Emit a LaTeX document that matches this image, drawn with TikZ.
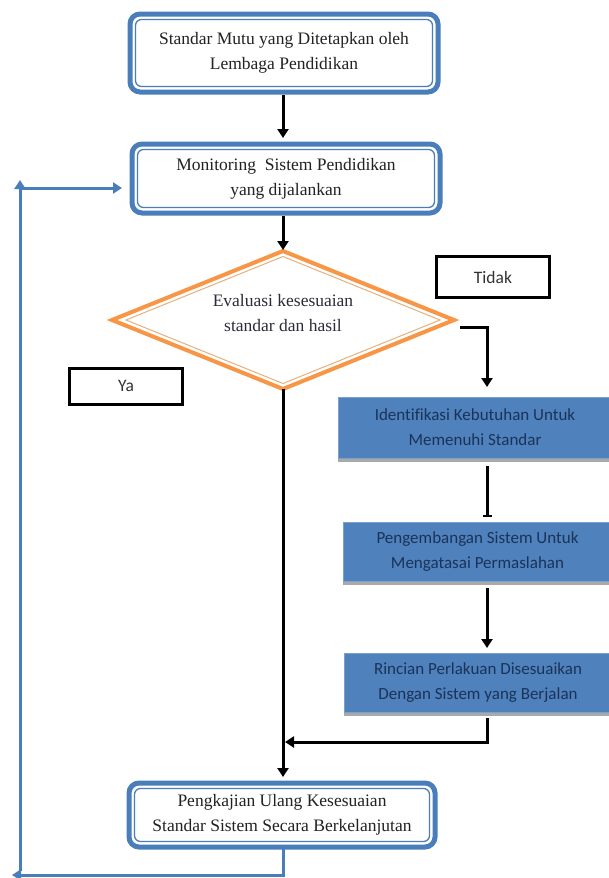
\documentclass[tikz,border=0pt]{standalone}
\usepackage{fontspec}
\setmainfont{Liberation Serif}
\newfontfamily\calfont[Ligatures=NoCommon]{Carlito}
\usetikzlibrary{arrows.meta,shapes.geometric,shadows}

\definecolor{frameblue}{HTML}{4A7EBB}
\definecolor{fillblue}{HTML}{4F81BD}
\definecolor{navytext}{HTML}{1B3358}
\definecolor{orangeline}{HTML}{F79646}
\definecolor{orangeinner}{HTML}{E6B07C}
\definecolor{shadowgray}{HTML}{A9A9A9}
\definecolor{serifink}{HTML}{222222}
\definecolor{diamondink}{HTML}{2E2A3A}

\tikzset{
  roundbox/.style={draw=frameblue, line width=5pt, rounded corners=10pt,
    fill=white, outer sep=0pt, inner sep=0pt, align=center,
    font=\fontsize{17.5}{25}\selectfont, text=serifink},
  innerframe/.style={draw=frameblue, line width=1.3pt, rounded corners=6pt},
  decision/.style={diamond, draw=orangeline, line width=4pt, fill=white,
    outer sep=0pt, inner sep=2pt, aspect=2.5},
  decisiontext/.style={align=center, inner sep=0pt,
    font=\fontsize{17.5}{25}\selectfont, text=diamondink},
  taskbox/.style={rectangle, fill=fillblue, draw=fillblue!75!white,
    line width=0.8pt, outer sep=0pt, inner sep=0pt, align=center,
    font=\calfont\fontsize{17}{25}\selectfont, text=navytext,
    drop shadow={shadow xshift=0pt, shadow yshift=-4pt, fill=shadowgray, opacity=1}},
  tagbox/.style={rectangle, draw=black, line width=3pt, outer sep=0pt,
    inner sep=0pt, align=center, font=\calfont\fontsize{17.5}{20}\selectfont,
    text=black!80},
  flow/.style={draw=black, line width=3pt, -{Triangle[width=11pt,length=9pt]}},
  barflow/.style={draw=black, line width=3pt, -{Bar[width=9pt,line width=2pt]}},
  loopback/.style={draw=frameblue, line width=3pt, -{Triangle[width=11pt,length=9pt]}},
}

\begin{document}
\begin{tikzpicture}[x=1pt, y=-1pt]
  \useasboundingbox[fill=white] (0,0) rectangle (609,878);

  % main column
  \node[roundbox, minimum width=308pt, minimum height=78pt] (b1) at (284,53)
    {Standar Mutu yang Ditetapkan oleh\\Lembaga Pendidikan};
  \draw[innerframe] ([shift={(5.5,5.5)}]b1.north west) rectangle ([shift={(-5.5,-5.5)}]b1.south east);

  \node[roundbox, minimum width=308pt, minimum height=69pt] (b2) at (286,178.5)
    {Monitoring\ \ Sistem Pendidikan\\yang dijalankan};
  \draw[innerframe] ([shift={(5.5,5.5)}]b2.north west) rectangle ([shift={(-5.5,-5.5)}]b2.south east);

  \node[decision, minimum width=342pt, minimum height=138pt] (d) at (283,320) {};
  \draw[orangeinner, line width=1pt] ([xshift=14pt]d.west) -- ([yshift=-5.5pt]d.north)
    -- ([xshift=-14pt]d.east) -- ([yshift=5.5pt]d.south) -- cycle;
  \node[decisiontext] (dt) at (283,313) {Evaluasi kesesuaian\\standar dan hasil};

  \node[roundbox, minimum width=306pt, minimum height=64pt] (b6) at (282,815)
    {Pengkajian Ulang Kesesuaian\\Standar Sistem Secara Berkelanjutan};
  \draw[innerframe] ([shift={(5.5,5.5)}]b6.north west) rectangle ([shift={(-5.5,-5.5)}]b6.south east);

  % branch labels
  \node[tagbox, minimum width=113pt, minimum height=41pt] (tidak) at (493,277) {Tidak};
  \node[tagbox, minimum width=113pt, minimum height=36pt] (ya) at (126,386) {Ya};

  % right-hand branch
  \node[taskbox, minimum width=274pt, minimum height=61pt] (b3) at (475,427.5)
    {Identifikasi Kebutuhan Untuk\\Memenuhi Standar};
  \node[taskbox, minimum width=269pt, minimum height=59pt] (b4) at (477.5,551.5)
    {Pengembangan Sistem Untuk\\Mengatasai Permaslahan};
  \node[taskbox, minimum width=268pt, minimum height=59pt] (b5) at (478,682.5)
    {Rincian Perlakuan Disesuaikan\\Dengan Sistem yang Berjalan};

  \coordinate (rx) at (487,0);
  \coordinate (jn) at (285,742);
  \coordinate (lb) at (20,875);
  \coordinate (lt) at (20,188);

  % connectors
  \draw[flow] ([yshift=-3pt]b1.south -| d.north) -- ([yshift=6pt]b2.north -| d.north);
  \draw[flow] ([yshift=-3pt]b2.south -| d.north) -- ([yshift=1pt]d.north);
  \draw[flow] ([shift={(6,7)}]d.east) -| ([yshift=10pt]b3.north -| rx);
  \draw[barflow] ([yshift=-8pt]b3.south -| rx) -- ([yshift=5pt]b4.north -| rx);
  \draw[flow] ([yshift=-7pt]b4.south -| rx) -- ([yshift=5pt]b5.north -| rx);
  \draw[flow] ([yshift=-6pt]b5.south -| rx) |- (jn);
  \draw[flow] (d.south) -- ([yshift=6pt]b6.north -| d.south);

  % feedback loop
  \draw[loopback] (b6.south -| d.south) |- ([xshift=-8pt]lb);
  \draw[loopback] ([yshift=4pt]lb) -- ([yshift=8pt]lt);
  \draw[loopback] ([xshift=2pt]lt) -- ([xshift=-10pt]b2.west |- lt);
\end{tikzpicture}
\end{document}
